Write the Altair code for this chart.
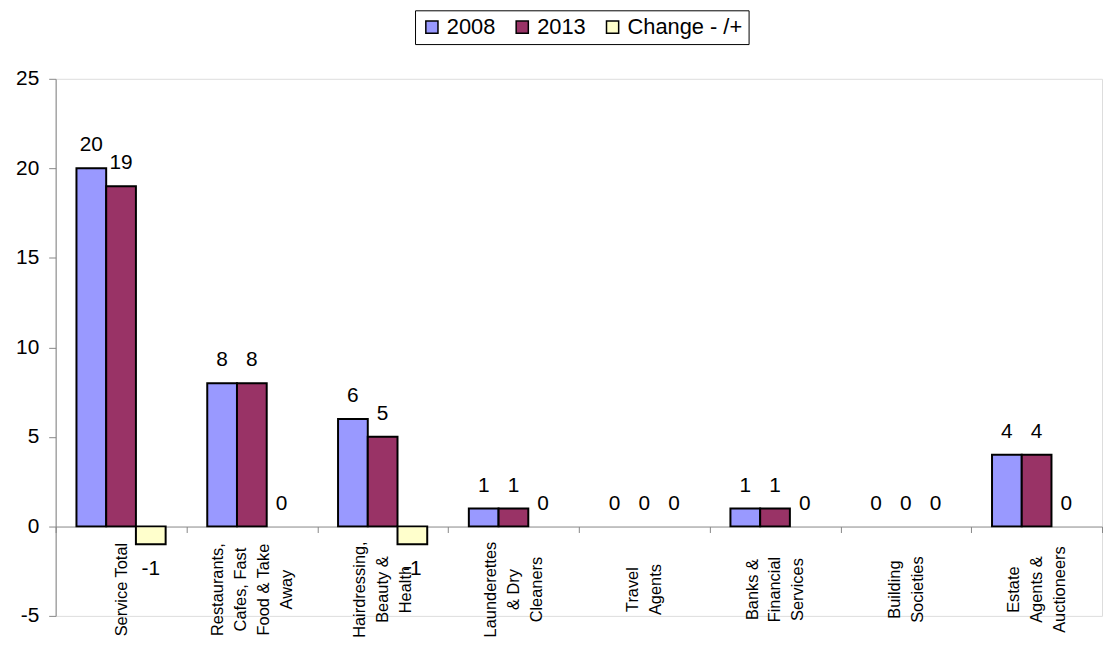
import altair as alt
import pandas as pd

categories = [
    "Service Total",
    "Restaurants,\nCafes, Fast\nFood & Take\nAway",
    "Hairdressing,\nBeauty &\nHealth",
    "Launderettes\n& Dry\nCleaners",
    "Travel\nAgents",
    "Banks &\nFinancial\nServices",
    "Building\nSocieties",
    "Estate\nAgents &\nAuctioneers",
]
series = ["2008", "2013", "Change - /+"]
values_2008 = [20, 8, 6, 1, 0, 1, 0, 4]
values_2013 = [19, 8, 5, 1, 0, 1, 0, 4]
values_change = [-1, 0, -1, 0, 0, 0, 0, 0]
colors = ["#9999FF", "#993366", "#FFFFCC"]

rows = []
for i, c in enumerate(categories):
    for s, vals in zip(series, [values_2008, values_2013, values_change]):
        rows.append({"category": c, "series": s, "value": vals[i]})
df = pd.DataFrame(rows)

FONT = "Liberation Sans"
LINE_H = 23

# shift each multi-line label so that its block of lines is centred on the band
n_lines = "length(split(datum.value, '\\n'))"
label_offset = {
    "condition": [
        {"test": f"{n_lines} == {n}", "value": -(n - 1) * LINE_H / 2}
        for n in (2, 3, 4)
    ],
    "value": 0,
}

x_enc = alt.X(
    "category:N",
    sort=categories,
    scale=alt.Scale(paddingInner=0, paddingOuter=0),
    axis=alt.Axis(
        title=None,
        orient="bottom",
        offset=-90,
        domainColor="#868686",
        domainWidth=1,
        tickColor="#868686",
        tickSize=6,
        tickBand="extent",
        labelAngle=270,
        labelAlign="center",
        labelBaseline="middle",
        labelPadding=57,
        labelOffset=label_offset,
        labelFont=FONT,
        labelFontSize=16.5,
        labelLineHeight=LINE_H,
        labelColor="black",
        labelOverlap=False,
        labelLimit=300,
        labelExpr="split(datum.label, '\\n')",
    ),
)
xoff = alt.XOffset(
    "series:N", sort=series, scale=alt.Scale(paddingInner=0, paddingOuter=0.7)
)
y_enc = alt.Y(
    "value:Q",
    scale=alt.Scale(domain=[-5, 25], nice=False, zero=False),
    axis=alt.Axis(
        title=None,
        values=[-5, 0, 5, 10, 15, 20, 25],
        grid=False,
        domainColor="#868686",
        tickColor="#868686",
        tickSize=7,
        labelPadding=10,
        labelFont=FONT,
        labelFontSize=21,
        labelColor="black",
        labelExpr="'' + datum.value",
    ),
)

base = alt.Chart(df).transform_calculate(txt="'' + datum.value")

bars = base.transform_filter("datum.value != 0").mark_bar(
    stroke="black", strokeWidth=2
).encode(
    x=x_enc,
    xOffset=xoff,
    y=y_enc,
    y2=alt.datum(0),
    color=alt.Color(
        "series:N",
        sort=series,
        scale=alt.Scale(domain=series, range=colors),
        legend=alt.Legend(
            title=None,
            orient="none",
            legendX=362,
            legendY=-69,
            direction="horizontal",
            symbolType="square",
            symbolSize=150,
            symbolStrokeColor="black",
            symbolStrokeWidth=1.5,
            labelFont=FONT,
            labelFontSize=22,
            labelColor="black",
            labelOffset=4,
            columnPadding=16,
            padding=6,
            strokeColor="black",
            fillColor="white",
        ),
    ),
)

text_pos = base.transform_filter("datum.value >= 0").mark_text(
    font=FONT, fontSize=21, color="black", baseline="alphabetic", dy=-17
).encode(
    x=x_enc,
    xOffset=xoff,
    y=y_enc,
    text=alt.Text("txt:N"),
)
text_neg = base.transform_filter("datum.value < 0").mark_text(
    font=FONT, fontSize=21, color="black", baseline="alphabetic", dy=31
).encode(
    x=x_enc,
    xOffset=xoff,
    y=y_enc,
    text=alt.Text("txt:N"),
)

chart = (
    alt.layer(bars, text_pos, text_neg)
    .properties(
        width=1054,
        height=541,
        autosize=alt.AutoSizeParams(type="none"),
        padding={"left": 48, "top": 69, "right": 1, "bottom": 28},
    )
    .configure_view(stroke=None)
    .configure(background="white")
)

chart.save("out.html", embed_options={"renderer": "svg", "actions": False})
